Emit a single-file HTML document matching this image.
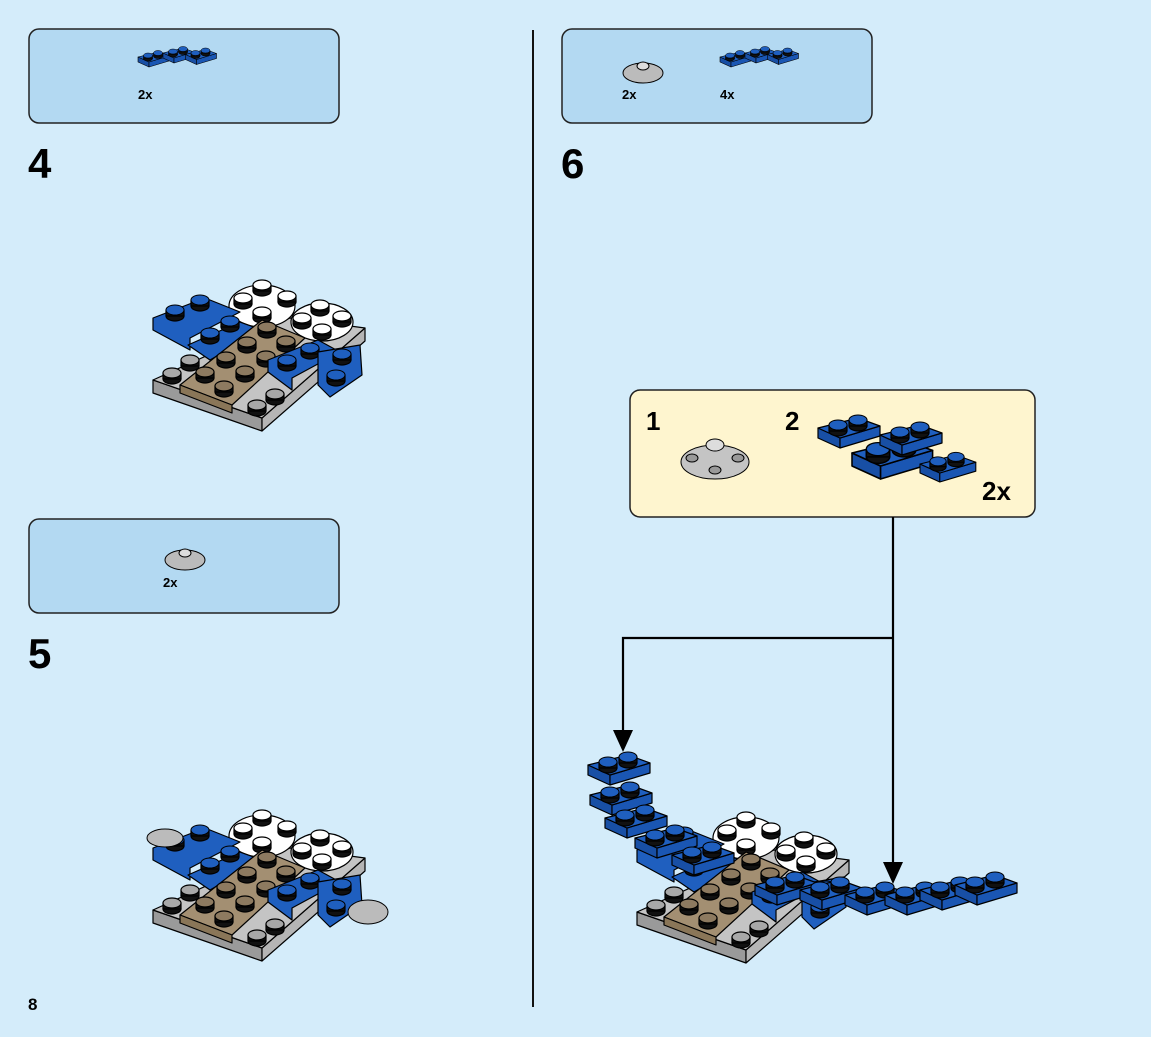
<!DOCTYPE html>
<html><head><meta charset="utf-8"><style>
body{margin:0;background:#d4ecfa;width:1151px;height:1037px;overflow:hidden;font-family:"Liberation Sans",sans-serif}
svg{position:absolute;left:0;top:0}
</style></head><body>
<svg width="1151" height="1037" viewBox="0 0 1151 1037">
<defs>
<g id="sk"><ellipse cx="0" cy="4" rx="9" ry="5" fill="#111"/><rect x="-9" y="-2" width="18" height="6" fill="#111"/><ellipse cx="0" cy="-2" rx="9" ry="5" fill="#1f5fbf" stroke="#000" stroke-width="1"/></g>
<g id="sg"><ellipse cx="0" cy="4" rx="9" ry="5" fill="#111"/><rect x="-9" y="-2" width="18" height="6" fill="#111"/><ellipse cx="0" cy="-2" rx="9" ry="5" fill="#a8a8a8" stroke="#000"/></g>
<g id="st"><ellipse cx="0" cy="4" rx="9" ry="5" fill="#111"/><rect x="-9" y="-2" width="18" height="6" fill="#111"/><ellipse cx="0" cy="-2" rx="9" ry="5" fill="#8d7a60" stroke="#000"/></g>
<g id="sw"><ellipse cx="0" cy="4" rx="9" ry="5" fill="#111"/><rect x="-9" y="-2" width="18" height="6" fill="#111"/><ellipse cx="0" cy="-2" rx="9" ry="5" fill="#fff" stroke="#000"/></g>
<g id="core" stroke="#000" stroke-width="1.2" stroke-linejoin="round">
 <polygon points="153,380 262,418 262,431 153,393" fill="#9a9a9a"/>
 <polygon points="262,418 365,328 365,341 262,431" fill="#b5b5b5"/>
 <polygon points="153,380 290,318 365,328 262,418" fill="#c4c4c4"/>
 <ellipse cx="262" cy="306" rx="33" ry="21" fill="#fff"/>
 <ellipse cx="322" cy="322" rx="31" ry="19" fill="#fff"/>
 <use href="#sw" x="262" y="287"/><use href="#sw" x="243" y="300"/><use href="#sw" x="287" y="298"/><use href="#sw" x="262" y="314"/>
 <use href="#sw" x="320" y="307"/><use href="#sw" x="302" y="320"/><use href="#sw" x="342" y="318"/><use href="#sw" x="322" y="331"/>
 <polygon points="153,318 205,298 240,312 190,338 190,350 153,330" fill="#1f5fbf"/>
 <use href="#sk" x="175" y="312"/><use href="#sk" x="200" y="302"/>
 <polygon points="188,345 240,322 262,330 210,360" fill="#1f5fbf"/>
 <use href="#sk" x="210" y="335"/><use href="#sk" x="230" y="323"/>
 <polygon points="180,385 262,320 305,338 232,405" fill="#a38f72"/>
 <polygon points="180,385 232,405 232,413 180,393" fill="#8a7658"/>
 <use href="#st" x="205" y="374"/><use href="#st" x="226" y="359"/><use href="#st" x="247" y="344"/><use href="#st" x="267" y="329"/>
 <use href="#st" x="224" y="388"/><use href="#st" x="245" y="373"/><use href="#st" x="266" y="358"/><use href="#st" x="286" y="343"/>
 <use href="#sg" x="172" y="375"/><use href="#sg" x="190" y="362"/><use href="#sg" x="275" y="396"/><use href="#sg" x="257" y="407"/>
 <polygon points="268,360 318,340 340,352 292,378 292,390 268,372" fill="#1f5fbf"/>
 <use href="#sk" x="287" y="362"/><use href="#sk" x="310" y="350"/>
 <polygon points="318,352 360,345 362,375 330,397 318,385" fill="#1f5fbf"/>
 <use href="#sk" x="342" y="356"/><use href="#sk" x="336" y="377"/>
</g>
<g id="bp" stroke="#000" stroke-width="1.2" stroke-linejoin="round">
 <polygon points="0,10 22,20 22,30 0,20" fill="#184fa5"/>
 <polygon points="22,20 62,8 62,18 22,30" fill="#1a56b3"/>
 <polygon points="0,10 40,0 62,8 22,20" fill="#1f5fbf"/>
 <use href="#sk" x="20" y="9"/><use href="#sk" x="40" y="4"/>
</g>
</defs>

<g fill="#b3d9f2" stroke="#222" stroke-width="1.5">
<rect x="29" y="29" width="310" height="94" rx="10"/>
<rect x="29" y="519" width="310" height="94" rx="10"/>
<rect x="562" y="29" width="310" height="94" rx="10"/>
</g>
<rect x="630" y="390" width="405" height="127" rx="10" fill="#fef5cf" stroke="#222" stroke-width="1.5"/>
<line x1="533" y1="30" x2="533" y2="1007" stroke="#111" stroke-width="2"/>

<g font-weight="bold" fill="#000">
<text x="28" y="178" font-size="42">4</text>
<text x="28" y="668" font-size="42">5</text>
<text x="561" y="178" font-size="42">6</text>
<text x="28" y="1010" font-size="17">8</text>
<text x="138" y="99" font-size="13">2x</text>
<text x="163" y="587" font-size="13">2x</text>
<text x="622" y="99" font-size="13">2x</text>
<text x="720" y="99" font-size="13">4x</text>
<text x="646" y="430" font-size="26">1</text>
<text x="785" y="430" font-size="26">2</text>
<text x="982" y="500" font-size="26">2x</text>
</g>

<g transform="translate(138,52) scale(0.5)"><use href="#bp"/><use href="#bp" x="50" y="-8"/><use href="#bp" x="95" y="-5"/></g>
<g transform="translate(720,52) scale(0.5)"><use href="#bp"/><use href="#bp" x="50" y="-8"/><use href="#bp" x="95" y="-5"/></g>
<g stroke="#000"><ellipse cx="185" cy="560" rx="20" ry="10" fill="#bbb"/><ellipse cx="185" cy="553" rx="6" ry="4" fill="#ddd"/></g>
<g stroke="#000"><ellipse cx="643" cy="73" rx="20" ry="10" fill="#bbb"/><ellipse cx="643" cy="66" rx="6" ry="4" fill="#ddd"/></g>
<g stroke="#000"><ellipse cx="715" cy="462" rx="34" ry="17" fill="#c4c4c4"/><ellipse cx="715" cy="445" rx="9" ry="6" fill="#ddd"/><ellipse cx="692" cy="458" rx="6" ry="4" fill="#999"/><ellipse cx="738" cy="458" rx="6" ry="4" fill="#999"/><ellipse cx="715" cy="470" rx="6" ry="4" fill="#999"/></g>
<g transform="translate(818,418)"><use href="#bp"/></g>
<g transform="translate(852,440) scale(1.3)"><use href="#bp"/></g>
<g transform="translate(880,425)"><use href="#bp"/></g>
<g transform="translate(920,455) scale(0.9)"><use href="#bp"/></g>

<use href="#core"/>
<use href="#core" y="530"/>
<g stroke="#000"><ellipse cx="165" cy="838" rx="18" ry="9" fill="#bbb"/><ellipse cx="368" cy="912" rx="20" ry="12" fill="#bbb"/></g>
<use href="#core" x="484" y="532"/>
<g>
<use href="#bp" x="588" y="755"/><use href="#bp" x="590" y="785"/><use href="#bp" x="605" y="808"/><use href="#bp" x="635" y="828"/><use href="#bp" x="672" y="845"/>
<use href="#bp" x="755" y="875"/><use href="#bp" x="800" y="880"/><use href="#bp" x="845" y="885"/><use href="#bp" x="885" y="885"/><use href="#bp" x="920" y="880"/><use href="#bp" x="955" y="875"/>
</g>

<g stroke="#000" stroke-width="2.2" fill="none">
<polyline points="893,517 893,865"/>
<polyline points="893,638 623,638 623,735"/>
</g>
<polygon points="883,862 903,862 893,884" fill="#000"/>
<polygon points="613,730 633,730 623,752" fill="#000"/>
</svg>
</body></html>
